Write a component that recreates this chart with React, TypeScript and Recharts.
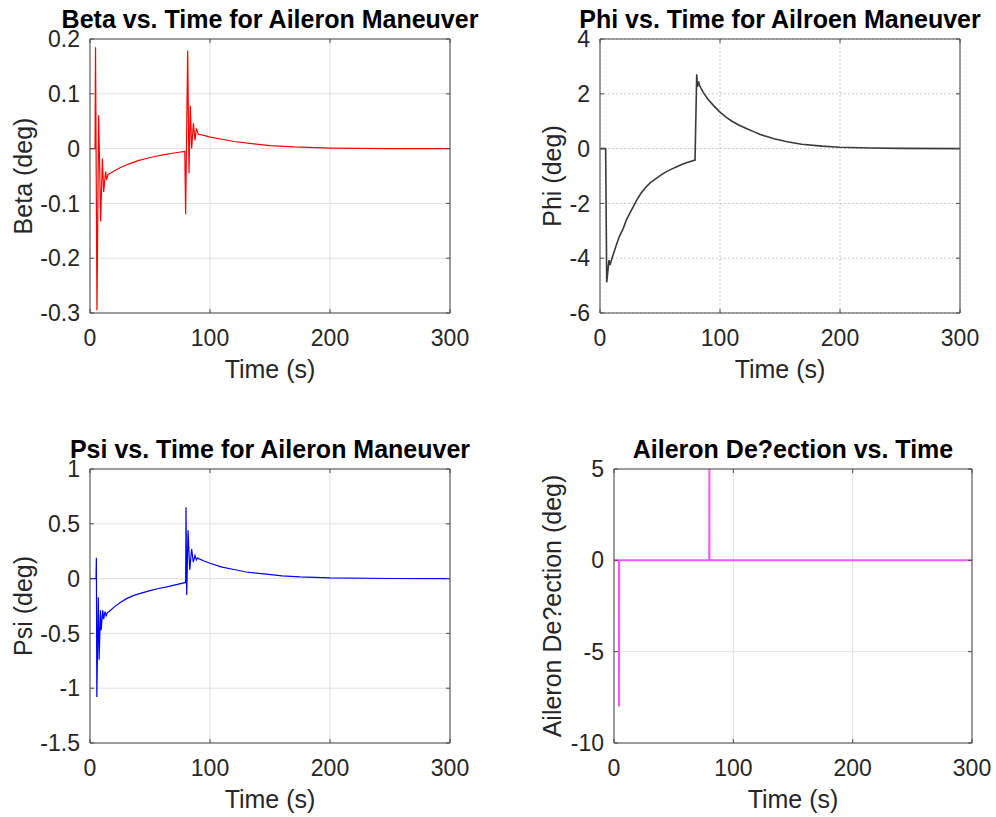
import React from 'react';
import { LineChart, Line, XAxis, YAxis, CartesianGrid } from 'recharts';

// time axis shared by all four panels (s)
const timeTicks = [0, 100, 200, 300];

// sideslip angle, deg
const betaTicks = [-0.3, -0.2, -0.1, 0, 0.1, 0.2];
const betaTime = [0, 4.2, 4.6, 5.8, 7.2, 8.9, 10.3, 11.4, 13, 13.9, 15, 17, 20, 25, 30, 35, 40, 47, 55, 62, 70, 79, 79.7, 81.4, 82.5, 83.6, 84.7, 86.2, 87.5, 88.6, 90.3, 95, 100, 110, 120, 135, 150, 170, 200, 250, 300];
const betaDeg = [0, 0, 0.185, -0.295, 0.061, -0.133, -0.018, -0.079, -0.042, -0.057, -0.047, -0.045, -0.041, -0.035, -0.03, -0.026, -0.022, -0.018, -0.014, -0.011, -0.008, -0.005, -0.12, 0.179, -0.045, 0.078, 0.0, 0.046, 0.015, 0.037, 0.026, 0.024, 0.021, 0.017, 0.013, 0.009, 0.0055, 0.003, 0.001, 0.0, 0];

// roll angle, deg
const phiTicks = [-6, -4, -2, 0, 2, 4];
const phiTime = [0, 4.7, 5.6, 7.5, 8.3, 10, 13, 16, 19.4, 22, 25, 28, 30.6, 34, 38, 42, 47.2, 51, 55, 60, 64, 68, 72, 76, 79.2, 80.6, 81.2, 82.2, 83, 86, 90, 95, 100, 105, 110, 116, 122, 128, 133, 139, 145, 156, 168, 185, 200, 225, 250, 300];
const phiDeg = [0, 0, -4.88, -4.07, -4.25, -4.0, -3.6, -3.22, -2.91, -2.6, -2.35, -2.1, -1.88, -1.64, -1.42, -1.24, -1.08, -0.96, -0.85, -0.74, -0.66, -0.58, -0.52, -0.46, -0.42, 2.71, 2.25, 2.45, 2.3, 2.05, 1.8, 1.55, 1.33, 1.15, 1.0, 0.85, 0.73, 0.62, 0.52, 0.44, 0.36, 0.25, 0.16, 0.09, 0.05, 0.02, 0.01, 0];

// heading angle, deg
const psiTicks = [-1.5, -1, -0.5, 0, 0.5, 1];
const psiTime = [0, 5, 5.3, 5.7, 6.9, 7.6, 8.7, 9.3, 10.6, 11.4, 12.5, 13.4, 14.5, 16, 20, 25, 30, 36, 42, 50, 57, 64, 72, 79.7, 80, 80.6, 81.7, 83.1, 84.7, 86.1, 87.5, 88.6, 89.7, 91, 95, 100, 110, 119, 130, 147, 160, 175, 200, 250, 300];
const psiDeg = [0, 0, 0.19, -1.08, -0.17, -0.74, -0.29, -0.47, -0.29, -0.37, -0.3, -0.34, -0.31, -0.3, -0.26, -0.22, -0.185, -0.155, -0.135, -0.11, -0.09, -0.075, -0.055, -0.035, 0.65, -0.15, 0.44, 0.08, 0.27, 0.15, 0.21, 0.17, 0.19, 0.18, 0.16, 0.14, 0.105, 0.085, 0.06, 0.04, 0.025, 0.015, 0.006, 0.001, 0];

// aileron command, deg
const aileronTicks = [-10, -5, 0, 5];
const aileronTime = [0, 4.1, 4.2, 4.3, 79.8, 79.9, 80.0, 300];
const aileronDeg = [0, 0, -8, 0, 0, 5, 0, 0];

const FONT = '"Liberation Sans", Arial, Helvetica, sans-serif';
const AXIS = '#4a4a4a';
const TEXT = '#262626';
const TICK = 4;
const X_MARGIN = 17;
const Y_MARGIN = 10;

const toRows = (time: number[], values: number[]) => time.map((t, i) => ({ t, v: values[i] }));

const bottomTick = (props: any) => {
  const { x, y, payload } = props;
  const axisY = y - X_MARGIN;
  return (
    <g>
      <line x1={x} x2={x} y1={axisY} y2={axisY - TICK} stroke={AXIS} />
      <text x={x} y={y} dy="0.71em" textAnchor="middle" fill={TEXT} fontSize={23} fontFamily={FONT}>
        {payload.value}
      </text>
    </g>
  );
};

const leftTick = (props: any) => {
  const { x, y, payload } = props;
  const axisX = x + Y_MARGIN;
  return (
    <g>
      <line x1={axisX} x2={axisX + TICK} y1={y} y2={y} stroke={AXIS} />
      <text x={x} y={y} dy="0.355em" textAnchor="end" fill={TEXT} fontSize={23} fontFamily={FONT}>
        {payload.value}
      </text>
    </g>
  );
};

const topTick = (props: any) => (
  <line x1={props.x} x2={props.x} y1={props.y} y2={props.y + TICK} stroke={AXIS} />
);

const rightTick = (props: any) => (
  <line x1={props.x} x2={props.x - TICK} y1={props.y} y2={props.y} stroke={AXIS} />
);

interface PanelProps {
  left: number;
  top: number;
  plotWidth: number;
  title: string;
  yLabel: string;
  yLabelGap: number;
  rows: { t: number; v: number }[];
  yTicks: number[];
  color: string;
  strokeWidth: number;
  dotted?: boolean;
}

function Panel({ left, top, plotWidth, title, yLabel, yLabelGap, rows, yTicks, color, strokeWidth, dotted }: PanelProps) {
  const yDomain = [yTicks[0], yTicks[yTicks.length - 1]];

  const titleContent = ({ viewBox }: any) => {
    if (!viewBox) return null;
    return (
      <text x={viewBox.x + viewBox.width / 2} y={viewBox.y + viewBox.height - 11} textAnchor="middle" fill="#000" fontSize={25} fontWeight="bold" fontFamily={FONT}>
        {title}
      </text>
    );
  };

  const xLabelContent = ({ viewBox }: any) => {
    if (!viewBox) return null;
    return (
      <text x={viewBox.x + viewBox.width / 2} y={viewBox.y + 47} dy="0.71em" textAnchor="middle" fill={TEXT} fontSize={25} fontFamily={FONT}>
        Time (s)
      </text>
    );
  };

  const yLabelContent = ({ viewBox }: any) => {
    if (!viewBox) return null;
    const cx = viewBox.x + viewBox.width - yLabelGap;
    const cy = viewBox.y + viewBox.height / 2;
    return (
      <text x={cx} y={cy} dy="0.355em" transform={`rotate(-90, ${cx}, ${cy})`} textAnchor="middle" fill={TEXT} fontSize={25} fontFamily={FONT}>
        {yLabel}
      </text>
    );
  };

  return (
    <div style={{ position: 'absolute', left, top }}>
      <LineChart width={90 + plotWidth + 50} height={400} data={rows} margin={{ top: 38, right: 49, bottom: 0, left: 0 }}>
        <CartesianGrid stroke={dotted ? '#c9c9c9' : '#e0e0e0'} strokeDasharray={dotted ? '2 2' : undefined} />
        <XAxis
          dataKey="t"
          type="number"
          domain={[0, 300]}
          ticks={timeTicks}
          height={87}
          tickSize={0}
          tickMargin={X_MARGIN}
          tickLine={false}
          axisLine={{ stroke: AXIS }}
          tick={bottomTick}
          label={{ content: xLabelContent }}
        />
        <XAxis
          xAxisId="top"
          orientation="top"
          dataKey="t"
          type="number"
          domain={[0, 300]}
          ticks={timeTicks}
          height={1}
          tickSize={0}
          tickMargin={0}
          tickLine={false}
          axisLine={{ stroke: AXIS }}
          tick={topTick}
          label={{ content: titleContent }}
        />
        <YAxis
          type="number"
          domain={yDomain}
          ticks={yTicks}
          width={90}
          tickSize={0}
          tickMargin={Y_MARGIN}
          tickLine={false}
          axisLine={{ stroke: AXIS }}
          tick={leftTick}
          allowDataOverflow
          label={{ content: yLabelContent }}
        />
        <YAxis
          yAxisId="right"
          orientation="right"
          type="number"
          domain={yDomain}
          ticks={yTicks}
          width={1}
          tickSize={0}
          tickMargin={0}
          tickLine={false}
          axisLine={{ stroke: AXIS }}
          tick={rightTick}
          allowDataOverflow
        />
        <Line type="linear" dataKey="v" stroke={color} strokeWidth={strokeWidth} dot={false} activeDot={false} isAnimationActive={false} />
      </LineChart>
    </div>
  );
}

export default function App() {
  return (
    <div style={{ position: 'absolute', left: 0, top: 0, width: 996, height: 817, overflow: 'hidden', background: '#fff', fontFamily: FONT }}>
      <Panel
        left={0}
        top={0}
        plotWidth={360}
        title="Beta vs. Time for Aileron Maneuver"
        yLabel="Beta (deg)"
        yLabelGap={67}
        rows={toRows(betaTime, betaDeg)}
        yTicks={betaTicks}
        color="#ff0000"
        strokeWidth={1.2}
      />
      <Panel
        left={510}
        top={0}
        plotWidth={360}
        title="Phi vs. Time for Ailroen Maneuver"
        yLabel="Phi (deg)"
        yLabelGap={48}
        rows={toRows(phiTime, phiDeg)}
        yTicks={phiTicks}
        color="#3a3a3a"
        strokeWidth={1.6}
        dotted
      />
      <Panel
        left={0}
        top={430}
        plotWidth={360}
        title="Psi vs. Time for Aileron Maneuver"
        yLabel="Psi (deg)"
        yLabelGap={67}
        rows={toRows(psiTime, psiDeg)}
        yTicks={psiTicks}
        color="#0000ff"
        strokeWidth={1.2}
      />
      <Panel
        left={524}
        top={430}
        plotWidth={358}
        title="Aileron De?ection vs. Time"
        yLabel="Aileron De?ection (deg)"
        yLabelGap={62}
        rows={toRows(aileronTime, aileronDeg)}
        yTicks={aileronTicks}
        color="#ff55ff"
        strokeWidth={2}
      />
    </div>
  );
}
